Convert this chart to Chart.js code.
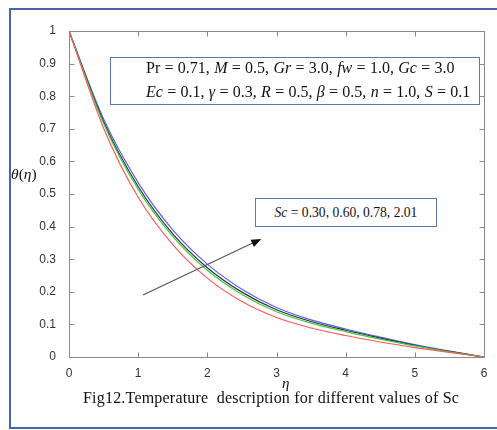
<!DOCTYPE html>
<html lang="en">
<head>
  <meta charset="UTF-8" />
  <title>Temperature description for different values of Sc</title>
  <script src="https://cdn.jsdelivr.net/npm/chart.js"></script>
  <style>
    body {
      margin: 0;
      background: #fff;
      overflow: hidden;
    }

    .frame {
      position: absolute;
      left: 9px;
      top: 8px;
      width: 488px;
      height: 421px;
      border: 2px solid #4767aa;
      border-right: none;
      box-sizing: border-box;
    }

    .chart-wrap {
      position: absolute;
      left: 0;
      top: 0;
      width: 497px;
      height: 430px;
    }

    .serif {
      position: absolute;
      font-family: 'Liberation Serif', 'Times New Roman', serif;
      color: #111;
      white-space: nowrap;
    }

    .box {
      background: #fff;
      border: 1.5px solid #5a78b0;
      box-sizing: border-box;
    }

    #params {
      left: 110px;
      top: 57px;
      width: 370px;
      height: 48px;
      font-size: 16px;
      line-height: 24px;
      padding-left: 35px;
      word-spacing: 0.3px;
    }

    #params div {
      position: relative;
      top: -2px;
    }

    #scBox {
      left: 255px;
      top: 198px;
      width: 182px;
      height: 29px;
      font-size: 13.6px;
      line-height: 27px;
      text-align: center;
    }

    #yTitle { left: 11px; top: 165px; font-size: 15.5px; }
    #xTitle { left: 282px; top: 375px; font-size: 15px; font-style: italic; }
    #caption { left: 83px; top: 389px; font-size: 16px; letter-spacing: 0.2px; }
  </style>
</head>
<body>
  <div class="frame"></div>
  <div class="chart-wrap">
    <canvas id="sc"></canvas>
  </div>

  <div id="params" class="serif box"><div>
    Pr = 0.71, <i>M</i> = 0.5, <i>Gr</i> = 3.0, <i>fw</i> = 1.0, <i>Gc</i> = 3.0<br>
    <i>Ec</i> = 0.1, <i>γ</i> = 0.3, <i>R</i> = 0.5, <i>β</i> = 0.5, <i>n</i> = 1.0, <i>S</i> = 0.1
  </div></div>
  <div id="scBox" class="serif box"><i>Sc</i> = 0.30, 0.60, 0.78, 2.01</div>
  <div id="yTitle" class="serif"><i>θ</i>(<i>η</i>)</div>
  <div id="xTitle" class="serif">η</div>
  <div id="caption" class="serif">Fig12.Temperature&nbsp; description for different values of Sc</div>

  <script>
    // eta grid and theta(eta)
    const eta = [0, 0.5, 1, 1.5, 2, 2.5, 3, 3.5, 4, 4.5, 5, 5.5, 6];
    const sc030 = [1, 0.702, 0.49, 0.345, 0.242, 0.17, 0.121, 0.089, 0.066, 0.046, 0.029, 0.014, 0];
    const sc060 = [1, 0.716, 0.514, 0.37, 0.266, 0.192, 0.139, 0.104, 0.078, 0.055, 0.034, 0.016, 0];
    const sc078 = [1, 0.722, 0.523, 0.378, 0.274, 0.199, 0.145, 0.109, 0.082, 0.058, 0.036, 0.017, 0];
    const sc201 = [1, 0.73, 0.535, 0.39, 0.285, 0.208, 0.152, 0.114, 0.086, 0.061, 0.038, 0.018, 0];

    const seriesColors = ['#ff5a5a', '#3ccb3c', '#333333', '#5e5eff'];
    const xTicks = [0, 1, 2, 3, 4, 5, 6];

    // arrow across the curves, in (eta, theta)
    const arrowStart = [1.07, 0.19];
    const arrowEnd = [2.78, 0.362];

    const toPoints = vals => vals.map((v, i) => ({ x: eta[i], y: v }));

    const matlabBox = {
      id: 'matlabBox',
      afterDraw(chart) {
        const { ctx, chartArea: a, scales: { x, y } } = chart;
        const L = Math.round(a.left) + 0.5, R = Math.round(a.right) + 0.5;
        const T = Math.round(a.top) + 0.5, B = Math.round(a.bottom) + 0.5;
        ctx.save();
        ctx.strokeStyle = '#8a8a8a';
        ctx.lineWidth = 1;
        ctx.strokeRect(L, T, R - L, B - T);
        ctx.beginPath();
        x.ticks.forEach(t => {
          const px = Math.round(x.getPixelForValue(t.value)) + 0.5;
          ctx.moveTo(px, B); ctx.lineTo(px, B - 5);
          ctx.moveTo(px, T); ctx.lineTo(px, T + 5);
        });
        y.ticks.forEach(t => {
          const py = Math.round(y.getPixelForValue(t.value)) + 0.5;
          ctx.moveTo(L, py); ctx.lineTo(L + 5, py);
          ctx.moveTo(R, py); ctx.lineTo(R - 5, py);
        });
        ctx.stroke();

        // arrow
        const x0 = x.getPixelForValue(arrowStart[0]), y0 = y.getPixelForValue(arrowStart[1]);
        const x1 = x.getPixelForValue(arrowEnd[0]), y1 = y.getPixelForValue(arrowEnd[1]);
        const ang = Math.atan2(y1 - y0, x1 - x0);
        ctx.strokeStyle = '#555';
        ctx.lineWidth = 1.1;
        ctx.beginPath();
        ctx.moveTo(x0, y0);
        ctx.lineTo(x1 - 6 * Math.cos(ang), y1 - 6 * Math.sin(ang));
        ctx.stroke();
        ctx.fillStyle = '#111';
        ctx.beginPath();
        ctx.moveTo(x1, y1);
        ctx.lineTo(x1 - 10 * Math.cos(ang) + 4 * Math.sin(ang), y1 - 10 * Math.sin(ang) - 4 * Math.cos(ang));
        ctx.lineTo(x1 - 10 * Math.cos(ang) - 4 * Math.sin(ang), y1 - 10 * Math.sin(ang) + 4 * Math.cos(ang));
        ctx.closePath();
        ctx.fill();
        ctx.restore();
      }
    };

    const tickFont = { family: "'Liberation Sans', Arial, sans-serif", size: 12 };

    new Chart(document.getElementById('sc'), {
      type: 'line',
      data: {
        datasets: [sc030, sc060, sc078, sc201].map((vals, i) => ({
          label: 'Sc ' + ['0.30', '0.60', '0.78', '2.01'][i],
          data: toPoints(vals),
          borderColor: seriesColors[i],
          borderWidth: 1.2,
          pointRadius: 0,
          fill: false,
          cubicInterpolationMode: 'monotone'
        }))
      },
      options: {
        responsive: true,
        maintainAspectRatio: false,
        animation: false,
        layout: { padding: { left: 0, top: 31, right: 13, bottom: 0 } },
        plugins: {
          legend: { display: false },
          tooltip: { enabled: false }
        },
        scales: {
          x: {
            type: 'linear',
            min: 0,
            max: 6,
            afterBuildTicks: s => { s.ticks = xTicks.map(v => ({ value: v })); },
            ticks: { color: '#333', font: tickFont, padding: 1, maxRotation: 0 },
            grid: { display: false },
            border: { display: false },
            afterFit: s => { s.height = 73; }
          },
          y: {
            min: 0,
            max: 1,
            ticks: {
              stepSize: 0.1,
              color: '#333',
              font: tickFont,
              padding: 5,
              callback: v => String(Number(v.toFixed(1)))
            },
            grid: { display: false },
            border: { display: false },
            afterFit: s => { s.width = 69; }
          }
        }
      },
      plugins: [matlabBox]
    });
  </script>
</body>
</html>
